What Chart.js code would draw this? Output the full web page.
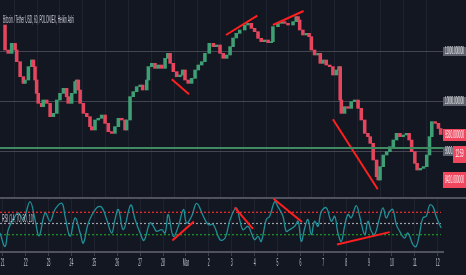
<!DOCTYPE html>
<html><head><meta charset="utf-8">
<script src="https://cdn.jsdelivr.net/npm/chart.js@4.4.1/dist/chart.umd.min.js"></script>
<style>
html,body{margin:0;padding:0;background:#131722;}
#wrap{position:relative;width:466px;height:275px;background:#131722;overflow:hidden;}
#c1{position:absolute;left:0;top:0;}
#c2{position:absolute;left:0;top:197px;}
</style></head><body>
<div id="wrap"><canvas id="c1" width="466" height="197"></canvas><canvas id="c2" width="466" height="78"></canvas></div>
<script>
// ---- data (x in days since 21 Feb) ----
const dayLabels = ['21','22','23','24','25','26','27','28','Mar','2','3','4','5','6','7','8','9','10','11','12'];
const priceDays = [-0.12,0.10,0.24,0.39,0.54,0.61,0.76,0.90,0.97,1.12,1.27,1.34,1.41,1.48,1.55,1.70,1.77,1.92,2.07,2.21,2.36,2.50,2.65,2.79,2.86,3.01,3.16,3.23,3.30,3.38,3.52,3.67,3.81,3.89,4.03,4.17,4.32,4.47,4.61,4.76,4.90,5.05,5.20,5.34,5.41,5.56,5.70,5.85,6.00,6.11,6.29,6.36,6.51,6.65,6.79,6.94,7.09,7.21,7.31,7.45,7.60,7.74,7.86,7.96,8.10,8.25,8.40,8.54,8.69,8.83,9.02,9.20,9.34,9.49,9.63,9.78,9.93,10.06,10.20,10.35,10.57,10.71,10.86,11.00,11.15,11.29,11.44,11.59,11.73,11.80,12.02,12.17,12.31,12.46,12.68,12.82,12.90,12.97,13.11,13.26,13.38,13.48,13.62,13.77,13.87,13.99,14.13,14.28,14.42,14.57,14.69,14.74,14.79,14.93,15.08,15.22,15.37,15.52,15.66,15.81,15.95,16.05,16.18,16.33,16.40,16.48,16.62,16.77,16.91,17.06,17.20,17.35,17.49,17.64,17.75,17.86,18.00,18.10,18.24,18.38,18.52,18.64,18.74,18.89,19.03,19.13];
const priceCloses = [11520,11020,10953,11153,11020,10787,10487,10353,10420,10687,10820,10687,10420,10153,9953,9887,10020,9953,9687,9753,10020,10153,10253,10087,9953,10153,10387,10420,10220,9953,9753,9687,9487,9420,9620,9653,9720,9553,9387,9353,9487,9653,9620,9420,9620,10087,10187,10287,10320,10220,10420,10687,10753,10653,10720,10653,10853,10953,10753,10587,10487,10520,10620,10420,10353,10453,10620,10720,10787,10953,11153,11087,11120,10953,10853,10920,11087,11260,11353,11420,11520,11553,11453,11387,11253,11187,11220,11167,11187,11487,11553,11587,11553,11520,11587,11687,11620,11420,11320,11353,11287,11020,10920,10953,10753,10820,10720,10687,10520,10620,10687,10020,9753,9887,9853,9987,10020,9853,9620,9353,9287,9153,8820,8487,8420,8687,8920,8987,9087,9220,9353,9287,9320,9353,9220,8987,8753,8620,8653,8687,8920,9287,9587,9553,9450,9330];
const priceLevels = [11000, 10000, 9000];
const supportLevel = 9060;
const priceTrendX = [[7.38,8.14],[9.75,11.12],[11.80,13.14],[14.42,16.38]];
const priceTrendY = [[10434,10134],[11320,11706],[11520,11800],[9634,8234]];
const rsiDays = [-0.12,0.10,0.24,0.46,0.68,0.90,1.19,1.41,1.59,1.85,2.07,2.28,2.58,2.72,2.94,3.16,3.38,3.52,3.74,4.10,4.32,4.54,4.76,4.90,5.05,5.27,5.59,5.78,6.00,6.17,6.43,6.58,6.72,6.94,7.09,7.23,7.45,7.67,7.89,8.03,8.25,8.47,8.76,8.98,9.20,9.49,9.71,9.93,10.20,10.35,10.49,10.71,10.86,11.00,11.15,11.29,11.51,11.66,11.88,12.02,12.24,12.38,12.53,12.75,12.90,13.04,13.19,13.33,13.48,13.62,13.77,13.91,14.13,14.35,14.50,14.64,14.79,14.93,15.08,15.22,15.44,15.59,15.81,15.95,16.10,16.24,16.46,16.61,16.75,16.90,17.04,17.19,17.34,17.55,17.70,17.92,18.06,18.21,18.35,18.50,18.65,18.79,18.93,19.08,19.15];
const rsiValues = [33,9,39,57,69,57,89,57,28,69,54,75,86,63,27,60,33,15,51,78,79,57,33,57,75,39,83,57,33,20,51,45,36,39,33,66,27,45,75,51,63,86,63,48,48,21,24,57,78,57,39,45,33,21,27,18,57,63,89,80,63,36,39,45,54,18,42,57,30,54,45,71,78,54,63,33,18,45,66,60,82,63,30,54,36,30,60,78,60,71,75,48,36,24,33,12,9,33,60,63,83,80,63,48,42];
const rsiLevels = [70, 50, 30];
const rsiTrendX = [[7.41,8.35],[10.13,10.93],[11.83,13.07],[14.60,16.90]];
const rsiTrendY = [[19.6,53.6],[78.6,40.5],[94.1,52.5],[12.5,34.6]];
const titleText = 'Bitcoin / Tether USD, 60, POLONIEX, Heikin Ashi';
const rsiTitle = 'RSI (14, 70, 30, 10)';

const X_MIN = -0.12, X_MAX = 19.23;
const BG = '#131722', GREEN = '#3f9f74', RED = '#e5465e', TREND = '#ff1f1f';

function sq(ctx, text, x, y, font, width, color, align) {
  ctx.save();
  ctx.font = font; ctx.fillStyle = color; ctx.textBaseline = 'middle'; ctx.textAlign = 'left';
  const m = ctx.measureText(text).width;
  const sx = width / m;
  let x0 = x;
  if (align === 'center') x0 = x - width / 2; else if (align === 'right') x0 = x - width;
  ctx.translate(x0, y); ctx.scale(sx, 1); ctx.fillText(text, 0, 0);
  ctx.restore();
}

const candles = priceDays.slice(1).map((d, i) => ({x: d, y: [priceCloses[i], priceCloses[i + 1]]}));
const trendSets = (xs, ys) => xs.map((xx, k) => ({
  type: 'line', data: xx.map((v, j) => ({x: v, y: ys[k][j]})),
  borderColor: TREND, borderWidth: 2, pointRadius: 0, order: 0
}));

const priceLabels = {
  id: 'priceLabels',
  afterDraw(chart) {
    const ctx = chart.ctx, y = chart.scales.y;
    sq(ctx, titleText, 3, 20, '10px "Liberation Sans"', 71, '#c9ccd4', 'left');
    priceLevels.forEach(v => {
      const py = Math.round(y.getPixelForValue(v));
      ctx.fillStyle = '#5d606b'; ctx.fillRect(443, py - 4, 23, 9);
      sq(ctx, v.toFixed(6), 454.5, py + 0.5, '10px "Liberation Sans"', 19, '#e8e9ec', 'center');
    });
    const last = priceCloses[priceCloses.length - 1];
    const ly = Math.round(y.getPixelForValue(last));
    ctx.fillStyle = '#f0475f'; ctx.fillRect(443, ly - 6, 23, 12);
    sq(ctx, last.toFixed(6), 454.5, ly, '10px "Liberation Sans"', 19, '#ffffff', 'center');
    ctx.fillStyle = '#f0475f'; ctx.fillRect(453, ly + 11, 13, 17);
    sq(ctx, '12:59', 459.5, ly + 19.5, '10px "Liberation Sans"', 8, '#ffffff', 'center');
    const low = Math.min(...priceCloses);
    const wy = Math.round(y.getPixelForValue(low));
    ctx.fillStyle = '#f0475f'; ctx.fillRect(443, wy - 8, 23, 16);
    sq(ctx, low.toFixed(6), 454.5, wy, '10px "Liberation Sans"', 19, '#ffffff', 'center');
  }
};

new Chart(document.getElementById('c1'), {
  type: 'bar',
  data: {
    datasets: [
      {type: 'line', data: [{x: X_MIN, y: supportLevel}, {x: X_MAX, y: supportLevel}], borderColor: '#3f8a62', borderWidth: 2, pointRadius: 0, order: 0},
      ...trendSets(priceTrendX, priceTrendY),
      {type: 'bar', data: candles, barThickness: 2.9, borderWidth: 0, order: 2,
       backgroundColor: c => (c.raw && c.raw.y[1] >= c.raw.y[0]) ? GREEN : RED}
    ]
  },
  options: {
    responsive: false, animation: false, events: [],
    layout: {padding: {left: 0, right: 23, top: 0, bottom: 0}},
    plugins: {legend: {display: false}, tooltip: {enabled: false}},
    scales: {
      x: {type: 'linear', min: X_MIN, max: X_MAX, offset: false,
          afterBuildTicks: a => { a.ticks = dayLabels.map((_, i) => ({value: i})); },
          ticks: {display: false}, border: {display: false},
          grid: {color: '#1f2330', drawTicks: false, lineWidth: 1}},
      y: {type: 'linear', position: 'right', min: 8080, max: 12020,
          afterBuildTicks: a => { a.ticks = priceLevels.map(v => ({value: v})); },
          ticks: {display: false}, border: {display: false},
          grid: {color: '#434651', drawTicks: false, lineWidth: 1}}
    }
  },
  plugins: [priceLabels]
});

const oscDeco = {
  id: 'oscDeco',
  beforeDatasetsDraw(chart) {
    const ctx = chart.ctx, a = chart.chartArea;
    ctx.save(); ctx.strokeStyle = '#50535e'; ctx.lineWidth = 2;
    ctx.beginPath(); ctx.moveTo(0, a.top); ctx.lineTo(466, a.top); ctx.stroke(); ctx.restore();
  },
  afterDraw(chart) {
    const ctx = chart.ctx, x = chart.scales.x;
    sq(ctx, rsiTitle, 2, 22, '10px "Liberation Sans"', 32, '#c9ccd4', 'left');
    dayLabels.forEach((t, i) => {
      const px = x.getPixelForValue(i);
      sq(ctx, t, px, 66, '11px "Liberation Sans"', t.length * 1.9 + (t === 'Mar' ? 0.5 : 0), '#c3c6ce', 'center');
    });
  }
};

new Chart(document.getElementById('c2'), {
  type: 'line',
  data: {
    datasets: [
      ...rsiLevels.map((v, k) => ({data: [{x: X_MIN, y: v}, {x: 19.14, y: v}],
        borderColor: ['#ff2a2a', '#a0a3aa', '#1e9a28'][k], borderWidth: 1.2, borderDash: [2, 2], pointRadius: 0, order: 3})),
      {data: rsiDays.map((d, i) => ({x: d, y: rsiValues[i]})), borderColor: '#1f8f98', borderWidth: 1.3, pointRadius: 0, tension: 0.4, order: 2},
      ...trendSets(rsiTrendX, rsiTrendY)
    ]
  },
  options: {
    responsive: false, animation: false, events: [],
    layout: {padding: {left: 0, right: 23, top: 1, bottom: 19}},
    plugins: {legend: {display: false}, tooltip: {enabled: false}},
    scales: {
      x: {type: 'linear', min: X_MIN, max: X_MAX, offset: false,
          afterBuildTicks: a => { a.ticks = dayLabels.map((_, i) => ({value: i})); },
          ticks: {display: false},
          border: {display: true, color: '#50535e', width: 2},
          grid: {color: '#1f2330', tickColor: '#3a3d48', tickLength: 4, lineWidth: 1}},
      y: {type: 'linear', display: false, min: -0.9, max: 95.5}
    }
  },
  plugins: [oscDeco]
});
</script>
</body></html>
